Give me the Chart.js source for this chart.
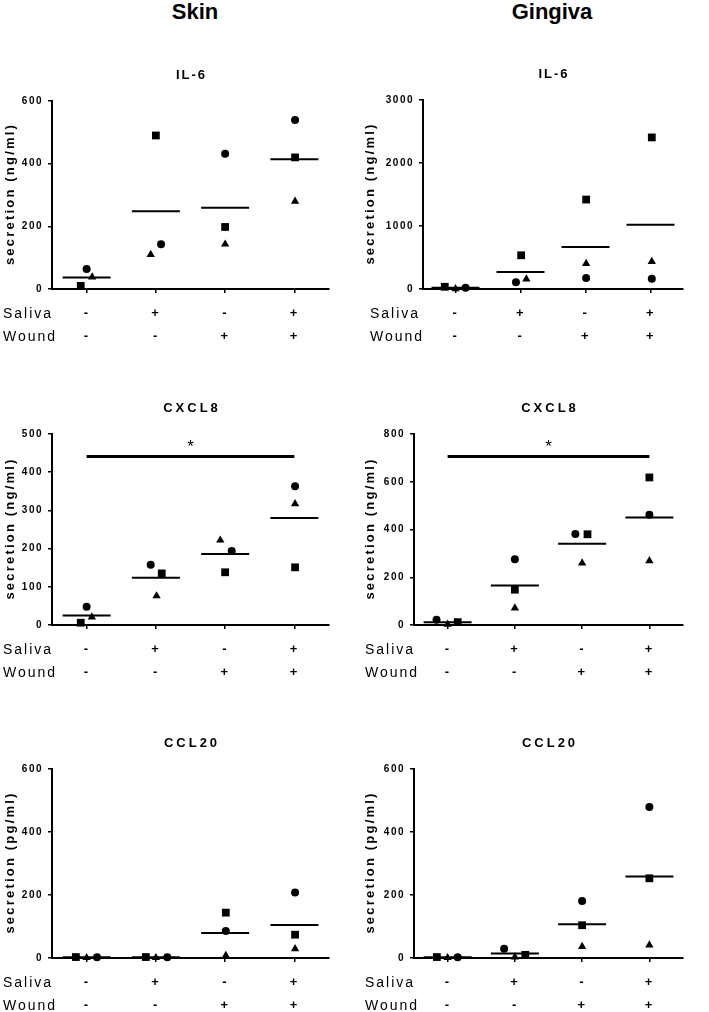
<!DOCTYPE html>
<html>
<head>
<meta charset="utf-8">
<script src="https://cdn.jsdelivr.net/npm/chart.js@4"></script>
<style>
body{margin:0;background:#fff;width:709px;height:1012px;position:relative;overflow:hidden;font-family:"Liberation Sans",Arial,sans-serif}
canvas{position:absolute}
.hdr{position:absolute;top:0;line-height:24px;font-size:22px;font-weight:bold;transform:translateX(-50%);white-space:nowrap}
</style>
</head>
<body>
<div class="hdr" style="left:195px">Skin</div>
<div class="hdr" style="left:552px">Gingiva</div>
<canvas id="c1" width="355" height="300" style="left:0;top:60px"></canvas>
<canvas id="c2" width="354" height="300" style="left:355px;top:60px"></canvas>
<canvas id="c3" width="355" height="300" style="left:0;top:390px"></canvas>
<canvas id="c4" width="354" height="300" style="left:355px;top:390px"></canvas>
<canvas id="c5" width="355" height="292" style="left:0;top:720px"></canvas>
<canvas id="c6" width="354" height="292" style="left:355px;top:720px"></canvas>
<script>
// conditions
const saliva = ['-', '+', '-', '+'];
const wound  = ['-', '-', '+', '+'];

// Skin IL-6 (ng/ml)
const skinIl6Circle   = [64, 143, 432, 539];
const skinIl6Square   = [10, 490, 198, 420];
const skinIl6Triangle = [38, 110, 143, 280];
const skinIl6Mean     = [37, 248, 259, 414];

// Gingiva IL-6 (ng/ml)
const gingIl6Circle   = [20, 106, 175, 164];
const gingIl6Square   = [35, 535, 1420, 2406];
const gingIl6Triangle = [3, 159, 403, 435];
const gingIl6Mean     = [18, 270, 668, 1018];

// Skin CXCL8 (ng/ml)
const skinCxcl8Circle   = [48, 158, 194, 363];
const skinCxcl8Square   = [6, 135, 138, 151];
const skinCxcl8Triangle = [21, 76, 222, 317];
const skinCxcl8Mean     = [25, 124, 186, 280];

// Gingiva CXCL8 (ng/ml)
const gingCxcl8Circle   = [22, 275, 381, 462];
const gingCxcl8Square   = [12, 148, 380, 618];
const gingCxcl8Triangle = [3, 71, 259, 269];
const gingCxcl8Mean     = [12, 165, 340, 450];

// Skin CCL20 (pg/ml)
const skinCcl20Circle   = [2, 2, 86, 208];
const skinCcl20Square   = [3, 3, 144, 74];
const skinCcl20Triangle = [1, 1, 8, 29];
const skinCcl20Mean     = [2, 2, 79, 105];

// Gingiva CCL20 (pg/ml)
const gingCcl20Circle   = [2, 29, 181, 479];
const gingCcl20Square   = [3, 10, 104, 253];
const gingCcl20Triangle = [1, 3, 36, 41];
const gingCcl20Mean     = [2, 14, 107, 259];

// horizontal scatter of the donors inside each group (in group units)
const skinIl6Jitter    = {circle:[0, 0.075, 0, 0.01], square:[-0.085, 0, 0, 0.01], triangle:[0.08, -0.075, 0, 0.01]};
const gingIl6Jitter    = {circle:[0.155, -0.07, 0.01, 0.02], square:[-0.165, 0.01, 0.01, 0.02], triangle:[0, 0.09, 0.01, 0.02]};
const skinCxcl8Jitter  = {circle:[0, -0.075, 0.095, 0.01], square:[-0.085, 0.085, 0, 0.01], triangle:[0.075, 0.01, -0.07, 0.01]};
const gingCxcl8Jitter  = {circle:[-0.165, 0, -0.1, 0], square:[0.15, 0, 0.08, 0], triangle:[0, 0, 0, 0]};
const skinCcl20Jitter  = {circle:[0.15, 0.165, 0.01, 0.01], square:[-0.155, -0.145, 0.01, 0.01], triangle:[0, 0, 0.01, 0.01]};
const gingCcl20Jitter  = {circle:[0.15, -0.16, 0, 0], square:[-0.16, 0.155, 0, 0], triangle:[0, 0, 0, 0]};

// significance bars (value of the bar, groups spanned)
const skinCxcl8Sig = {from:0, to:3, y:441};
const gingCxcl8Sig = {from:0, to:3, y:706};

const FONT = '"Liberation Sans", Arial, sans-serif';

const decor = {
  id:'decor',
  beforeDraw(chart){ chart.ctx.letterSpacing = '1.5px'; },
  afterDraw(chart, args, o){
    const ctx = chart.ctx, a = chart.chartArea, xs = chart.scales.x, ys = chart.scales.y;
    ctx.save();
    ctx.fillStyle = '#000';
    ctx.textBaseline = 'middle';

    ctx.font = 'bold 13px ' + FONT;
    ctx.letterSpacing = o.titleSpacing + 'px';
    ctx.textAlign = 'center';
    ctx.fillText(o.title, (a.left + a.right) / 2 + o.titleSpacing / 2, a.top - 25.5);

    ctx.save();
    ctx.translate(o.yTitleX, (a.top + a.bottom) / 2);
    ctx.rotate(-Math.PI / 2);
    ctx.font = 'bold 13px ' + FONT;
    ctx.letterSpacing = '2.2px';
    ctx.fillText(o.yTitle, 1, 0);
    ctx.restore();

    ctx.font = '14px ' + FONT;
    ctx.letterSpacing = '2px';
    ctx.textAlign = 'left';
    ctx.fillText('Saliva', o.rowX, xs.top + 25);
    ctx.fillText('Wound', o.rowX, xs.top + 48);

    if (o.sig) {
      ctx.font = '17px ' + FONT;
      ctx.letterSpacing = '0px';
      ctx.textAlign = 'center';
      ctx.fillText('*', xs.getPixelForValue((o.sig.from + o.sig.to) / 2), ys.getPixelForValue(o.sig.y) - 9);
    }
    ctx.restore();
  }
};

function pts(values, jitter){
  return values.map((v, i) => ({x: i + jitter[i], y: v}));
}

function panel(p){
  const canvas = document.getElementById(p.id);
  const cl = parseFloat(canvas.style.left) || 0, ct = parseFloat(canvas.style.top) || 0;
  const XH = 60;
  const marker = (label, style, r, values, jit) => ({
    label, data: pts(values, jit), pointStyle: style, pointRadius: r, pointHoverRadius: r,
    backgroundColor:'#000', borderColor:'#000', borderWidth:0, showLine:false, clip:false
  });
  const datasets = [
    {label:'mean', data: p.mean.map((v, i) => ({x:i, y:v})), pointStyle:'line', pointRadius:24,
     pointHoverRadius:24, borderColor:'#000', backgroundColor:'#000', borderWidth:2, pointBorderWidth:2, showLine:false, clip:false},
    marker('circle', 'circle', 4, p.circle, p.jitter.circle),
    marker('square', 'rect', 5.5, p.square, p.jitter.square),
    marker('triangle', 'triangle', 4.8, p.triangle, p.jitter.triangle)
  ];
  if (p.sig) {
    datasets.push({label:'sig', type:'line', data:[{x:p.sig.from, y:p.sig.y}, {x:p.sig.to, y:p.sig.y}],
      borderColor:'#000', borderWidth:3, pointRadius:0, showLine:true, clip:false});
  }
  new Chart(canvas, {
    type:'scatter',
    data:{datasets},
    plugins:[decor],
    options:{
      responsive:false,
      animation:false,
      events:[],
      layout:{padding:{
        top: p.area.t - ct,
        right: cl + canvas.width - p.area.r,
        bottom: ct + canvas.height - p.area.b - XH,
        left: 0
      }},
      plugins:{
        legend:{display:false},
        tooltip:{enabled:false},
        decor:{title:p.title, titleSpacing:p.titleSpacing, yTitle:p.yTitle, yTitleX:p.yTitleX, rowX:p.rowX, sig:p.sig}
      },
      scales:{
        x:{
          type:'linear', min:-0.5, max:3.5,
          afterBuildTicks(s){ s.ticks = saliva.map((_, i) => ({value:i})); },
          afterFit(s){ s.height = XH; },
          grid:{display:true, drawOnChartArea:false, drawTicks:true, tickLength:4, color:'#000', lineWidth:1.5},
          border:{display:true, color:'#000', width:2},
          ticks:{
            color:'#000', padding:9, maxRotation:0, autoSkip:false,
            font:{family:FONT, size:13, weight:'bold', lineHeight:'23px'},
            callback:(v) => [saliva[v], wound[v]]
          }
        },
        y:{
          min:0, max:p.max,
          afterFit(s){ s.width = p.area.l - cl; },
          grid:{display:true, drawOnChartArea:false, drawTicks:true, tickLength:4, color:'#000', lineWidth:1.5},
          border:{display:true, color:'#000', width:2},
          ticks:{stepSize:p.step, color:'#000', padding:5, font:{family:FONT, size:10, weight:'bold'},
            callback:(v) => String(v)}
        }
      }
    }
  });
}

panel({id:'c1', title:'IL-6', titleSpacing:2, yTitle:'secretion (ng/ml)', yTitleX:10, rowX:3,
  area:{l:52, r:338, t:101, b:289}, max:600, step:200,
  circle:skinIl6Circle, square:skinIl6Square, triangle:skinIl6Triangle, mean:skinIl6Mean, jitter:skinIl6Jitter});
panel({id:'c2', title:'IL-6', titleSpacing:2, yTitle:'secretion (ng/ml)', yTitleX:15, rowX:15,
  area:{l:423, r:707, t:100, b:289}, max:3000, step:1000,
  circle:gingIl6Circle, square:gingIl6Square, triangle:gingIl6Triangle, mean:gingIl6Mean, jitter:gingIl6Jitter});
panel({id:'c3', title:'CXCL8', titleSpacing:3, yTitle:'secretion (ng/ml)', yTitleX:10, rowX:3,
  area:{l:52, r:339, t:434, b:625}, max:500, step:100,
  circle:skinCxcl8Circle, square:skinCxcl8Square, triangle:skinCxcl8Triangle, mean:skinCxcl8Mean, jitter:skinCxcl8Jitter, sig:skinCxcl8Sig});
panel({id:'c4', title:'CXCL8', titleSpacing:3, yTitle:'secretion (ng/ml)', yTitleX:15, rowX:10,
  area:{l:414, r:698, t:434, b:625}, max:800, step:200,
  circle:gingCxcl8Circle, square:gingCxcl8Square, triangle:gingCxcl8Triangle, mean:gingCxcl8Mean, jitter:gingCxcl8Jitter, sig:gingCxcl8Sig});
panel({id:'c5', title:'CCL20', titleSpacing:3, yTitle:'secretion (pg/ml)', yTitleX:10, rowX:3,
  area:{l:52, r:339, t:769, b:958}, max:600, step:200,
  circle:skinCcl20Circle, square:skinCcl20Square, triangle:skinCcl20Triangle, mean:skinCcl20Mean, jitter:skinCcl20Jitter});
panel({id:'c6', title:'CCL20', titleSpacing:3, yTitle:'secretion (pg/ml)', yTitleX:15, rowX:10,
  area:{l:414, r:698, t:769, b:958}, max:600, step:200,
  circle:gingCcl20Circle, square:gingCcl20Square, triangle:gingCcl20Triangle, mean:gingCcl20Mean, jitter:gingCcl20Jitter});
</script>
</body>
</html>
